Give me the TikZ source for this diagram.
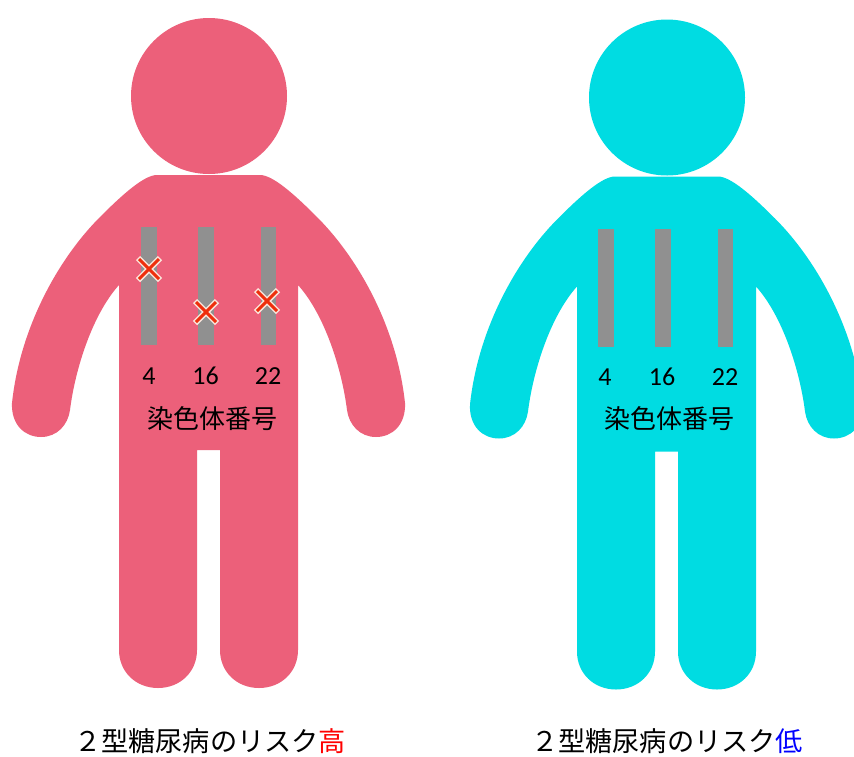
\documentclass[tikz,border=0pt]{standalone}
\usepackage{fontspec}
\newfontfamily\cjk{Noto Sans CJK JP}
\newfontfamily\numf{Carlito}
\definecolor{pinkbody}{HTML}{EC607A}
\definecolor{cyanbody}{HTML}{00DCE2}
\definecolor{bargray}{HTML}{909090}
\definecolor{crossred}{HTML}{EE2E0C}
\definecolor{crossedge}{HTML}{FBE6DC}
\tikzset{
  chrom/.style={fill=bargray,draw=none},
  numlabel/.style={font=\numf\fontsize{26}{26}\selectfont,inner sep=0pt,text=black,anchor=base},
  namelabel/.style={font=\cjk\fontsize{26}{26}\selectfont,inner sep=0pt,text=black},
  caption/.style={font=\cjk\fontsize{27.2}{28}\selectfont,inner sep=0pt,text=black},
  crossw/.style={draw=crossedge,line width=6pt},
  crossr/.style={draw=crossred,line width=3pt},
}
\newcommand{\personshape}[1]{%
  \fill[#1] (209,-96) circle (78);
  \fill[#1]
    (157,-175) -- (260,-175)
    .. controls (273,-175) and (295,-195) .. (317,-217)
    .. controls (359,-259) and (397,-328) .. (405,-403)
    .. controls (406,-425) and (392,-437) .. (376,-437)
    .. controls (360,-437) and (349,-425) .. (347,-410)
    .. controls (342,-370) and (325,-315) .. (298,-285)
    -- (298,-650)
    .. controls (298,-672) and (281,-688) .. (259,-688)
    .. controls (237,-688) and (220,-672) .. (220,-650)
    -- (220,-450) -- (197,-450) -- (197,-650)
    .. controls (197,-672) and (180,-688) .. (158,-688)
    .. controls (136,-688) and (119,-672) .. (119,-650)
    -- (119,-285)
    .. controls (92,-315) and (75,-370) .. (70,-410)
    .. controls (68,-425) and (57,-437) .. (41,-437)
    .. controls (25,-437) and (11,-425) .. (12,-403)
    .. controls (20,-328) and (58,-259) .. (100,-217)
    .. controls (122,-195) and (144,-175) .. (157,-175)
    -- cycle;
}
\newcommand{\chromosomes}{%
  \fill[chrom] (141,-227) rectangle (157,-345);
  \fill[chrom] (198,-227) rectangle (214,-345);
  \fill[chrom] (261,-227) rectangle (276,-345);
}
\newcommand{\xmark}[2]{%
  \draw[crossw] (#1-11,#2+11) -- (#1+11,#2-11) (#1-11,#2-11) -- (#1+11,#2+11);
  \draw[crossr] (#1-10,#2+10) -- (#1+10,#2-10) (#1-10,#2-10) -- (#1+10,#2+10);
}
\begin{document}
\begin{tikzpicture}[x=1pt,y=1pt]
\useasboundingbox (0,0) rectangle (854,-756);
\fill[white] (0,0) rectangle (854,-756);
% left person
\personshape{pinkbody}
\chromosomes
\xmark{149}{-269}
\xmark{206}{-312}
\xmark{267}{-301}
\node[numlabel] (la) at (149,-384) {4};
\node[numlabel] (lb) at (205.5,-384) {16};
\node[numlabel] (lc) at (268,-384) {22};
\node[namelabel] (lname) at (212.5,-419) {染色体番号};
\node[caption] (lcap) at (210,-741) {２型糖尿病のリスク\textcolor{red}{高}};
% right person
\begin{scope}[shift={(458,-1.5)}]
\personshape{cyanbody}
\end{scope}
\begin{scope}[shift={(457,-2)}]
\chromosomes
\end{scope}
\node[numlabel] (ra) at (605,-385) {4};
\node[numlabel] (rb) at (662,-385) {16};
\node[numlabel] (rc) at (725,-385) {22};
\node[namelabel] (rname) at (669,-419) {染色体番号};
\node[caption] (rcap) at (667,-741) {２型糖尿病のリスク\textcolor{blue}{低}};
\end{tikzpicture}
\end{document}
